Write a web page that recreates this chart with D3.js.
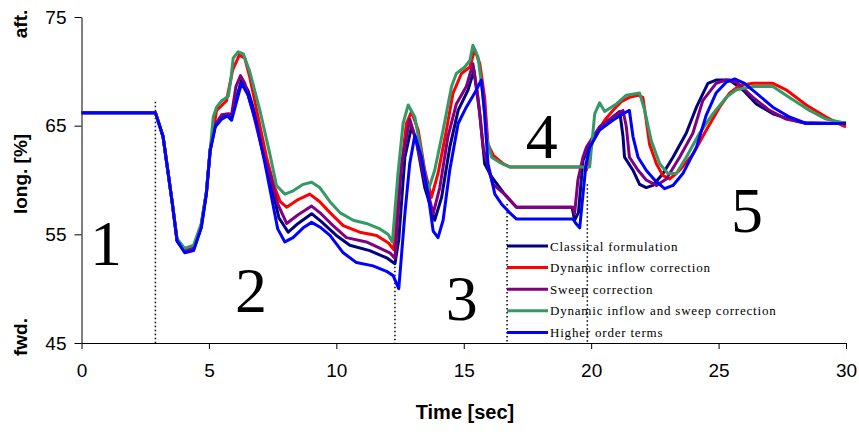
<!DOCTYPE html>
<html>
<head>
<meta charset="utf-8">
<script src="https://cdn.jsdelivr.net/npm/d3@7"></script>
<style>
  body { margin: 0; background: #fff; }
  svg { display: block; }
</style>
</head>
<body>
<svg id="chart"></svg>
<script>
// series, in legend (and drawing) order
var seriesNames = ["Classical formulation", "Dynamic inflow correction", "Sweep correction",
  "Dynamic inflow and sweep correction", "Higher order terms"];
var seriesColors = ["#000080", "#ff0000", "#800080", "#339966", "#0000ff"];

// [time sec, long. %]
var classical = [[0,66.2],[2.9,66.2],[3.2,64.0],[3.55,58.1],[3.75,54.4],[4.05,53.4],[4.4,53.6],[4.7,55.7],[4.9,58.8],[5.05,62.8],[5.25,65.0],[5.5,65.7],[5.75,66.0],[5.89,65.8],[6.06,67.4],[6.28,69.2],[6.54,68.2],[6.87,65.6],[7.2,62.0],[7.45,59.5],[7.75,56.5],[8.11,55.2],[8.5,56.0],[9.03,56.9],[9.4,56.2],[10.0,54.9],[10.53,54.0],[11.31,53.5],[12.0,52.8],[12.3,52.3],[12.45,54.5],[12.69,62.1],[12.95,64.9],[13.14,63.6],[13.47,59.3],[13.86,56.3],[14.13,58.4],[14.45,63.0],[14.78,66.4],[15.17,68.3],[15.4,70.1],[15.63,66.1],[15.82,61.5],[16.09,60.3],[16.6,58.7],[17.07,57.5],[19.25,57.5],[19.35,56.3],[19.5,57.0],[19.68,61.8],[20.07,64.0],[20.46,64.9],[20.85,65.8],[21.12,66.3],[21.25,64.0],[21.31,62.1],[21.64,60.9],[21.9,59.6],[22.16,59.3],[22.42,59.5],[22.82,60.6],[23.21,62.1],[23.73,64.3],[24.13,66.7],[24.58,68.9],[24.9,69.2],[25.43,69.2],[25.95,68.3],[26.48,67.0],[27.13,66.1],[27.78,65.6],[28.44,65.2],[30,65.2]];

var inflow = [[0,66.2],[2.9,66.2],[3.2,64.0],[3.55,58.1],[3.75,54.5],[4.05,53.6],[4.4,53.8],[4.7,55.9],[4.9,58.9],[5.05,62.8],[5.3,66.4],[5.69,67.3],[5.93,70.1],[6.19,71.5],[6.41,71.2],[6.6,69.5],[6.93,65.8],[7.26,62.1],[7.55,59.5],[7.8,58.0],[8.05,57.5],[8.5,58.2],[8.96,58.7],[9.35,58.0],[9.75,57.0],[10.27,55.8],[10.92,55.2],[11.58,54.9],[12.05,54.2],[12.25,53.6],[12.5,60.0],[12.75,65.2],[12.95,66.3],[13.21,64.6],[13.47,60.9],[13.73,58.4],[13.99,60.6],[14.32,64.6],[14.58,68.0],[14.91,69.8],[15.24,70.4],[15.43,72.0],[15.63,70.7],[15.82,67.6],[15.95,63.3],[16.15,62.3],[16.54,61.5],[16.8,61.2],[19.7,61.2],[19.81,60.9],[20.07,63.8],[20.53,65.5],[20.85,66.4],[21.18,67.2],[21.5,67.6],[21.84,67.8],[22.03,67.6],[22.16,65.5],[22.29,63.3],[22.56,61.5],[22.82,60.4],[23.08,60.1],[23.34,60.6],[23.47,60.9],[24.0,62.4],[24.52,64.6],[25.04,66.7],[25.43,68.0],[25.82,68.7],[26.35,68.9],[27.13,68.9],[27.65,68.3],[28.44,66.9],[29.22,65.8],[29.87,65.0],[30,64.9]];

var sweep = [[0,66.2],[2.9,66.2],[3.2,64.0],[3.55,58.1],[3.75,54.4],[4.05,53.5],[4.4,53.7],[4.7,55.8],[4.9,58.8],[5.05,62.8],[5.25,65.1],[5.5,66.0],[5.76,66.1],[5.89,66.0],[6.06,68.6],[6.24,69.6],[6.41,68.9],[6.74,66.1],[7.13,62.4],[7.39,60.6],[7.7,57.8],[8.05,56.0],[8.5,56.8],[9.03,57.6],[9.4,56.9],[9.87,55.8],[10.4,54.7],[11.18,54.3],[12.1,53.3],[12.3,52.8],[12.56,61.5],[12.88,65.6],[13.14,63.6],[13.47,60.0],[13.8,56.9],[14.06,59.3],[14.38,64.0],[14.71,67.0],[15.1,68.6],[15.36,70.7],[15.56,67.6],[15.76,63.0],[16.02,60.6],[16.15,59.6],[16.6,58.7],[17.07,57.5],[19.29,57.5],[19.35,56.9],[19.48,60.0],[19.68,62.1],[19.81,63.0],[20.33,64.9],[20.85,65.8],[21.25,66.4],[21.38,64.9],[21.5,62.1],[21.84,60.9],[22.16,60.0],[22.56,59.5],[22.95,60.1],[23.47,62.1],[23.99,64.3],[24.38,67.3],[24.9,68.9],[25.3,69.2],[25.7,69.0],[26.35,67.6],[27.0,66.4],[27.65,65.6],[28.3,65.3],[30,65.2]];

var inflowSweep = [[0,66.2],[2.9,66.2],[3.2,64.0],[3.55,58.1],[3.75,54.6],[4.05,53.7],[4.4,54.0],[4.7,56.0],[4.9,58.9],[5.05,62.7],[5.17,65.8],[5.3,66.7],[5.5,67.3],[5.76,67.7],[5.86,69.2],[5.95,71.2],[6.15,71.8],[6.35,71.6],[6.6,70.0],[7.0,66.4],[7.39,62.4],[7.65,59.5],[7.98,58.7],[8.31,59.0],[8.7,59.6],[9.03,59.8],[9.35,59.3],[9.75,58.0],[10.14,57.0],[10.66,56.3],[11.18,56.0],[11.71,55.5],[12.03,55.0],[12.2,54.3],[12.42,60.6],[12.62,65.2],[12.82,66.9],[13.08,65.8],[13.34,62.4],[13.6,59.0],[13.86,60.9],[14.19,64.6],[14.52,68.6],[14.71,69.8],[15.04,70.4],[15.24,71.0],[15.36,72.4],[15.56,71.3],[15.76,67.6],[15.89,64.0],[16.09,62.1],[16.5,61.5],[16.8,61.2],[19.94,61.2],[20.14,66.1],[20.33,67.1],[20.53,66.3],[20.99,67.0],[21.38,67.8],[21.9,68.0],[22.1,66.4],[22.36,63.6],[22.69,61.5],[23.01,60.6],[23.34,60.6],[23.73,62.1],[24.25,64.3],[24.78,66.1],[25.3,67.6],[25.7,68.3],[26.35,68.6],[27.13,68.6],[27.78,67.6],[28.57,66.4],[29.22,65.6],[29.87,65.3],[30,65.3]];

var higherOrder = [[0,66.2],[2.9,66.2],[3.2,64.0],[3.55,58.1],[3.75,54.4],[4.05,53.3],[4.4,53.5],[4.7,55.6],[4.9,58.7],[5.05,62.7],[5.25,64.9],[5.5,65.6],[5.72,65.9],[5.89,65.5],[6.06,67.0],[6.28,68.9],[6.54,67.8],[6.87,65.2],[7.2,61.5],[7.45,58.5],[7.7,55.5],[7.98,54.3],[8.3,54.7],[8.7,55.6],[9.03,56.1],[9.4,55.6],[9.75,54.9],[10.27,53.3],[10.79,52.4],[11.44,52.1],[11.97,51.6],[12.23,51.2],[12.45,50.0],[12.69,56.9],[12.88,61.5],[13.08,64.1],[13.34,62.1],[13.6,58.7],[13.8,55.3],[13.99,54.7],[14.19,56.3],[14.45,60.9],[14.78,65.2],[15.1,66.7],[15.43,68.0],[15.69,69.2],[15.82,66.1],[15.95,61.5],[16.22,58.7],[16.48,57.8],[16.8,57.0],[17.07,56.4],[19.29,56.4],[19.4,56.0],[19.55,55.6],[19.68,58.7],[19.8,61.5],[19.94,63.0],[20.33,64.6],[20.85,65.5],[21.25,66.1],[21.5,66.4],[21.64,64.0],[21.84,62.1],[22.16,60.9],[22.49,60.0],[22.88,59.2],[23.21,59.5],[23.6,60.6],[24.13,63.0],[24.52,66.0],[24.9,68.0],[25.3,69.0],[25.63,69.3],[26.02,68.9],[26.48,68.0],[27.13,66.7],[27.78,65.8],[28.44,65.2],[30,65.2]];

var allSeries = [classical, inflow, sweep, inflowSweep, higherOrder];

var xTicks = [0, 5, 10, 15, 20, 25, 30];
var yTicks = [45, 55, 65, 75];

// phase boundaries: [time, top of dotted line]
var phaseLines = [[2.9, 67.2], [12.3, 56.8], [16.7, 57.8], [19.85, 59.6]];
// phase numbers: [label, time, baseline value]
var phaseLabels = [["1", 0.96, 52.2], ["2", 6.65, 47.85], ["3", 14.92, 47.1], ["4", 18.06, 62.0], ["5", 26.12, 55.2]];

var width = 859, height = 434;
var svg = d3.select("#chart").attr("width", width).attr("height", height);

var x = d3.scaleLinear().domain([0, 30]).range([81.5, 846]);
var y = d3.scaleLinear().domain([45, 75]).range([343, 17]);

// axes
var xAxis = svg.append("g")
  .attr("transform", "translate(0," + y(45) + ")")
  .call(d3.axisBottom(x).tickValues(xTicks).tickSize(6).tickPadding(15).tickSizeOuter(0));
var yAxis = svg.append("g")
  .attr("transform", "translate(" + x(0) + ",0)")
  .call(d3.axisLeft(y).tickValues(yTicks).tickSize(7).tickPadding(8).tickSizeOuter(0));

svg.selectAll(".tick text")
  .attr("font-family", "Liberation Sans, Arial, sans-serif")
  .attr("font-size", 19)
  .attr("fill", "#000");
svg.selectAll(".domain, .tick line").attr("stroke", "#000").attr("stroke-width", 1);

// phase boundaries
svg.append("g")
  .selectAll("line")
  .data(phaseLines)
  .enter()
  .append("line")
    .attr("x1", function(d) { return x(d[0]); })
    .attr("x2", function(d) { return x(d[0]); })
    .attr("y1", function(d) { return y(d[1]); })
    .attr("y2", y(45))
    .attr("stroke", "#000")
    .attr("stroke-width", 1.5)
    .attr("stroke-dasharray", "1.5,2.5");

// curves
var line = d3.line()
  .x(function(d) { return x(d[0]); })
  .y(function(d) { return y(d[1]); });

svg.append("g")
  .selectAll("path")
  .data(allSeries)
  .enter()
  .append("path")
    .attr("d", line)
    .attr("fill", "none")
    .attr("stroke", function(d, i) { return seriesColors[i]; })
    .attr("stroke-width", 3)
    .attr("stroke-linejoin", "round");

// phase numbers
svg.append("g")
  .selectAll("text")
  .data(phaseLabels)
  .enter()
  .append("text")
    .attr("x", function(d) { return x(d[1]); })
    .attr("y", function(d) { return y(d[2]); })
    .attr("text-anchor", "middle")
    .attr("font-family", "Liberation Serif, Times New Roman, serif")
    .attr("font-size", 64)
    .text(function(d) { return d[0]; });

// legend
var legend = svg.append("g").attr("transform", "translate(507,246)");
var rows = legend.selectAll("g")
  .data(seriesNames)
  .enter()
  .append("g")
    .attr("transform", function(d, i) { return "translate(0," + (i * 21.6) + ")"; });
rows.append("line")
  .attr("x1", 0).attr("x2", 41)
  .attr("stroke", function(d, i) { return seriesColors[i]; })
  .attr("stroke-width", 3);
rows.append("text")
  .attr("x", 43)
  .attr("dy", "0.35em")
  .attr("font-family", "Liberation Serif, Times New Roman, serif")
  .attr("font-size", 13)
  .attr("letter-spacing", 0.8)
  .text(function(d) { return d; });

// axis titles
svg.append("text")
  .attr("x", 465).attr("y", 419)
  .attr("text-anchor", "middle")
  .attr("font-family", "Liberation Sans, Arial, sans-serif")
  .attr("font-weight", "bold")
  .attr("font-size", 20)
  .text("Time [sec]");

var yTitles = [["aft.", 24], ["long. [%]", 174], ["fwd.", 337]];
svg.append("g")
  .selectAll("text")
  .data(yTitles)
  .enter()
  .append("text")
    .attr("transform", function(d) { return "translate(27," + d[1] + ") rotate(-90)"; })
    .attr("text-anchor", "middle")
    .attr("font-family", "Liberation Sans, Arial, sans-serif")
    .attr("font-weight", "bold")
    .attr("font-size", 19)
    .text(function(d) { return d[0]; });
</script>
</body>
</html>
